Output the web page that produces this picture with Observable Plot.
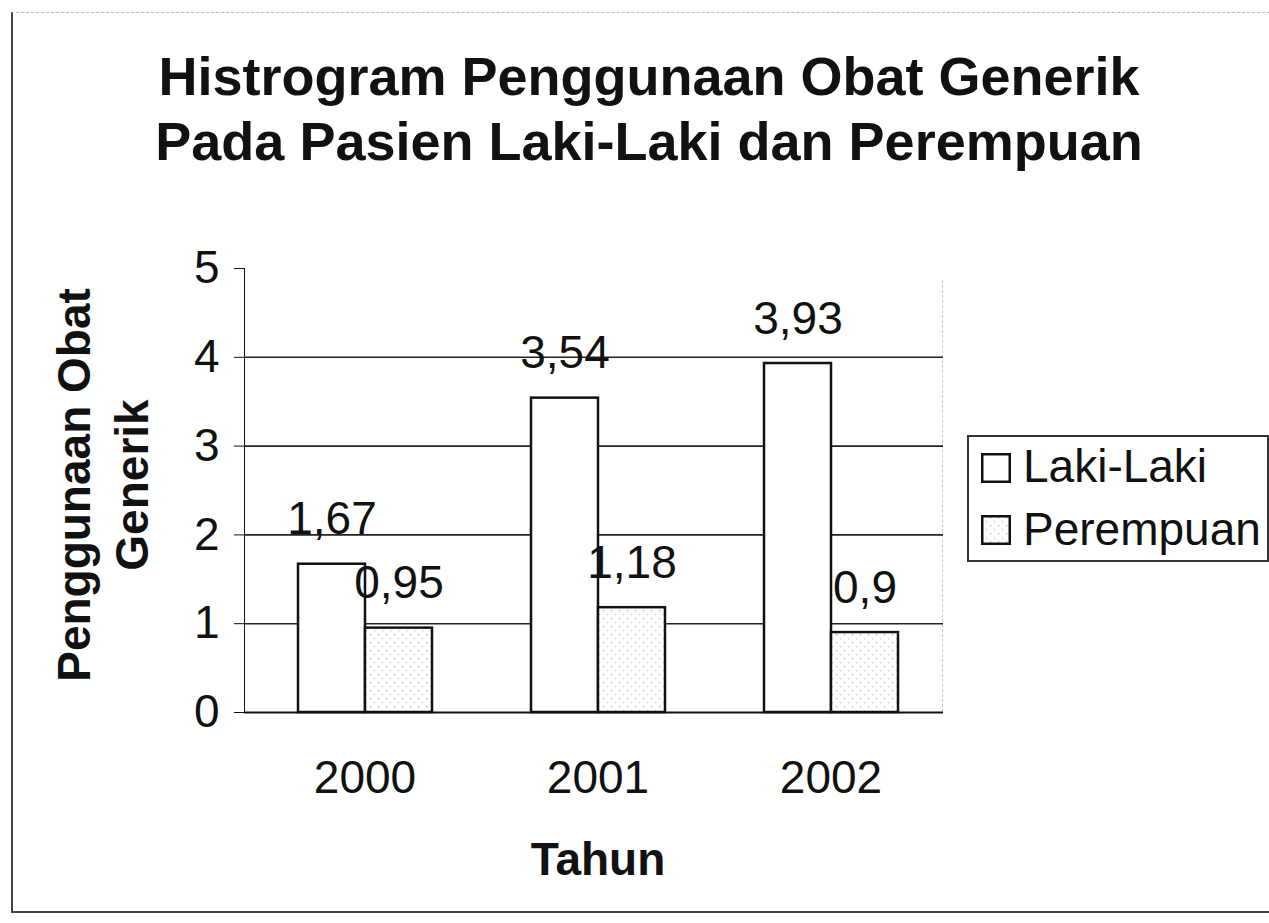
<!DOCTYPE html>
<html>
<head>
<meta charset="utf-8">
<script src="https://cdn.jsdelivr.net/npm/d3@7"></script>
<script src="https://cdn.jsdelivr.net/npm/@observablehq/plot@0.6"></script>
<style>
  body { margin: 0; background: #fff; }
  #wrap { position: relative; width: 1269px; height: 923px; overflow: hidden;
          font-family: "Liberation Sans", Arial, sans-serif; color: #111; background: #fff; }
  #border { position: absolute; left: 11px; top: 12px; width: 1262px; height: 898px;
            border-left: 2px solid #444; border-bottom: 2px solid #444; border-top: 1px dashed #bbb; }
  #title { position: absolute; left: 149px; top: 44px; width: 1000px; text-align: center;
           font-weight: bold; font-size: 54px; line-height: 65px; white-space: nowrap; }
  #ylabel { position: absolute; left: -107px; top: 427px; width: 420px; height: 116px;
            text-align: center; font-weight: bold; font-size: 46px; line-height: 58px;
            white-space: nowrap; transform: rotate(-90deg); transform-origin: 50% 50%; }
  #xlabel { position: absolute; left: 398px; top: 833px; width: 400px; text-align: center;
            font-weight: bold; font-size: 46px; line-height: 53px; }
  #plotright { position: absolute; left: 942px; top: 280px; width: 0; height: 432px;
               border-left: 1.5px dashed #c8c8c8; }
  #legend { position: absolute; left: 967px; top: 435px; width: 298px; height: 123px;
            border: 2px solid #333; box-sizing: content-box; }
  .lg-item { position: absolute; left: 12px; height: 53px; }
  .lg-item svg { position: absolute; left: 0; }
  .lg-item span { position: absolute; left: 42px; top: 0; font-size: 46px; line-height: 53px; white-space: nowrap; }
  #chart { position: absolute; left: 0; top: 0; }
</style>
</head>
<body>
<svg width="0" height="0" style="position:absolute">
  <defs>
    <pattern id="dots" patternUnits="userSpaceOnUse" width="8" height="8">
      <rect width="8" height="8" fill="#ffffff"></rect>
      <rect x="1" y="2" width="1.3" height="1.3" fill="#b0b0b0"></rect>
      <rect x="5" y="6" width="1.2" height="1.2" fill="#c8c8c8"></rect>
    </pattern>
  </defs>
</svg>
<div id="wrap">
  <div id="border"></div>
  <div id="plotright"></div>
  <div id="chart"></div>
  <div id="title">Histrogram Penggunaan Obat Generik<br>Pada Pasien Laki-Laki dan Perempuan</div>
  <div id="ylabel">Penggunaan Obat<br>Generik</div>
  <div id="xlabel">Tahun</div>
  <div id="legend"></div>
</div>
<script>
const years = ["2000", "2001", "2002"];
const series = ["Laki-Laki", "Perempuan"];
const lakiLaki = [1.67, 3.54, 3.93];
const perempuan = [0.95, 1.18, 0.9];
const yTicks = [0, 1, 2, 3, 4, 5];
const gridValues = [1, 2, 3, 4];
const seriesFill = ["#ffffff", "url(#dots)"];

const data = years.flatMap((yr, i) => [
  {year: yr, series: series[0], value: lakiLaki[i]},
  {year: yr, series: series[1], value: perempuan[i]}
]);
const fmt = v => String(v).replace(".", ",");

const chart = Plot.plot({
  width: 1269,
  height: 923,
  marginLeft: 243,
  marginRight: 326,
  marginTop: 268,
  marginBottom: 211,
  style: {fontFamily: "'Liberation Sans', Arial, sans-serif", fontSize: "46px", color: "#111", background: "transparent", overflow: "visible"},
  fx: {domain: years, padding: 0, label: null, axis: null},
  x: {domain: series, paddingInner: 0, paddingOuter: 0.724, align: 0.55, axis: null},
  y: {domain: [0, 5], ticks: yTicks, tickFormat: d => String(d), tickSize: 10, tickPadding: 15, label: null, line: true},
  color: {domain: series, range: seriesFill},
  marks: [
    Plot.ruleY(gridValues, {stroke: "#222", strokeWidth: 1.6}),
    Plot.barY(data, {fx: "year", x: "series", y: "value", fill: "series", stroke: "#111", strokeWidth: 2.5}),
    Plot.text(data, {fx: "year", x: "series", y: "value", text: d => fmt(d.value), lineAnchor: "bottom", dy: -30, fill: "#111", fontSize: 46}),
    Plot.ruleY([0], {stroke: "#111", strokeWidth: 2}),
    Plot.axisFx({anchor: "bottom", tickSize: 0, tickPadding: 48, dx: 4, label: null})
  ]
});
document.getElementById("chart").appendChild(chart);

// legend
const legend = document.getElementById("legend");
const tops = [[16, 3], [78, 66]];
series.forEach((s, i) => {
  const item = document.createElement("div");
  item.className = "lg-item";
  item.style.top = "0px";
  item.innerHTML = `<svg width="30" height="30" style="top:${tops[i][0]}px"><rect x="1.25" y="1.25" width="27.5" height="27.5" fill="${seriesFill[i]}" stroke="#111" stroke-width="2.5"></rect></svg><span style="top:${tops[i][1]}px">${s}</span>`;
  legend.appendChild(item);
});
</script>
</body>
</html>
